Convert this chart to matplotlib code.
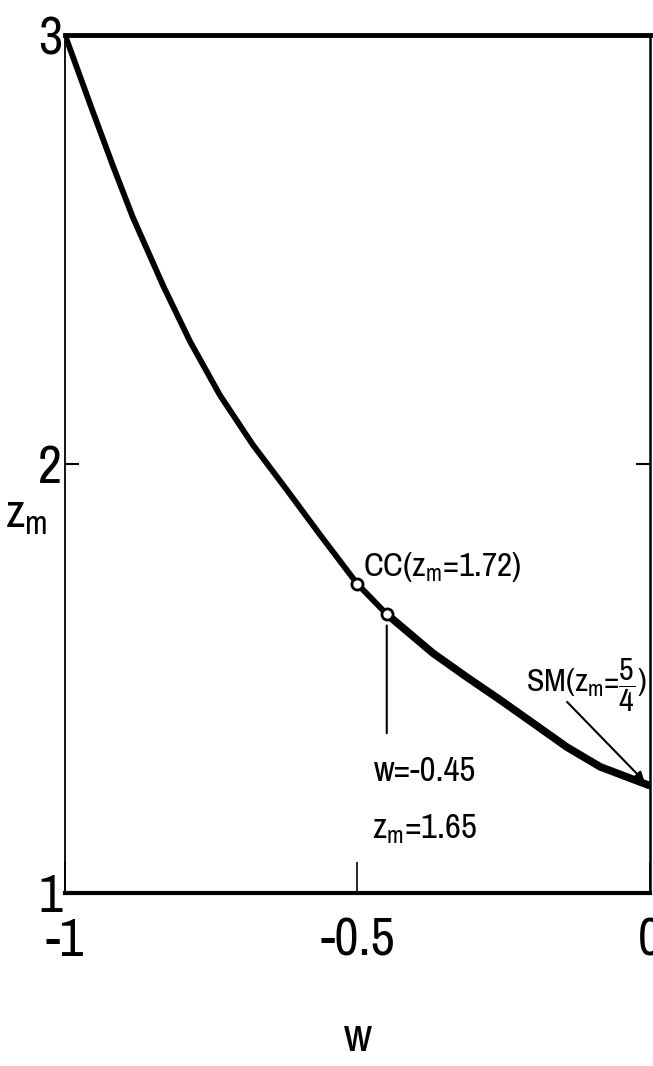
import matplotlib
matplotlib.use("Agg")
import matplotlib.pyplot as plt
from matplotlib import font_manager

# pick a narrow face if one is installed, the scan uses a very condensed lettering
narrow = None
for f in font_manager.fontManager.ttflist:
    if 'Narrow' in f.name or 'Condensed' in f.name:
        narrow = (f.name, 'normal')
        break
if narrow is None:
    for f in font_manager.fontManager.ttflist:
        if f.stretch in ('condensed', 'semi-condensed', 'extra-condensed', 'ultra-condensed'):
            narrow = (f.name, f.stretch)
            break
if narrow is None:
    narrow = ('DejaVu Sans', 'normal')

plt.rcParams['font.family'] = [narrow[0], 'DejaVu Sans']
plt.rcParams['font.stretch'] = narrow[1]
plt.rcParams['mathtext.fontset'] = 'custom'
plt.rcParams['mathtext.rm'] = narrow[0]
plt.rcParams['mathtext.it'] = narrow[0]

# curve z_m(w)
w_curve = [-1.0, -0.952, -0.918, -0.884, -0.832, -0.786, -0.735, -0.679, -0.621,
           -0.564, -0.5, -0.45, -0.371, -0.313, -0.256, -0.200, -0.142, -0.085, 0.0]
z_curve = [3.0, 2.82, 2.695, 2.575, 2.415, 2.285, 2.16, 2.045, 1.94,
           1.835, 1.72, 1.65, 1.559, 1.503, 1.450, 1.396, 1.340, 1.294, 1.25]

# marked points
cc_w, cc_z = -0.5, 1.72
pt_w, pt_z = -0.45, 1.65
sm_w, sm_z = 0.0, 1.25

x_ticks = [-1, -0.5, 0]
x_tick_labels = ['-1', '-0.5', '0']
y_ticks = [1, 2, 3]

fig = plt.figure(figsize=(6.53, 10.66), dpi=100)
ax = fig.add_axes([0.0995, 0.1623, 0.8959, 0.8049])

ax.plot(w_curve, z_curve, color='black', lw=4.2, solid_capstyle='round',
        solid_joinstyle='round', zorder=3)
# the lower branch is inked heavier in the original
ax.plot(w_curve[11:], z_curve[11:], color='black', lw=5.5, solid_capstyle='butt',
        solid_joinstyle='round', zorder=3)
ax.plot([cc_w, pt_w], [cc_z, pt_z], 'o', ms=8, mfc='white', mec='black', mew=2, zorder=4)

ax.set_xlim(-1, 0)
ax.set_ylim(1, 3)
ax.set_xticks(x_ticks)
ax.set_xticklabels(x_tick_labels)
ax.set_yticks(y_ticks)
ax.tick_params(axis='x', direction='in', length=22, width=1.2, labelsize=38, pad=17)
ax.tick_params(axis='y', direction='in', length=10, width=1.5, labelsize=38, pad=2,
               right=True)

for side, lw in [('top', 3.5), ('bottom', 3), ('left', 1.3), ('right', 1.8)]:
    ax.spines[side].set_linewidth(lw)

ax.set_xlabel('w', fontsize=34, va='center')
ax.xaxis.set_label_coords(0.5, -0.169)
ax.set_ylabel(r'z$_\mathrm{m}$', fontsize=34, rotation=0, ha='center', va='center')
ax.yaxis.set_label_coords(-0.066, 0.44)

# annotations
ax.text(-0.49, 1.74, r'CC(z$_\mathrm{m}$=1.72)', fontsize=24, ha='left', va='baseline')
ax.annotate('', xy=(pt_w, pt_z - 0.02), xytext=(pt_w, 1.366),
            arrowprops=dict(arrowstyle='-', color='black', lw=1.5))
ax.text(-0.385, 1.26, 'w=-0.45', fontsize=25, ha='center', va='baseline')
ax.text(-0.385, 1.128, r'z$_\mathrm{m}$=1.65', fontsize=25, ha='center', va='baseline')
ax.text(-0.108, 1.47, r'SM(z$_\mathrm{m}$=$\dfrac{5}{4}$)', fontsize=23, ha='center', va='baseline')
ax.annotate('', xy=(sm_w - 0.006, sm_z + 0.005), xytext=(-0.145, 1.45),
            arrowprops=dict(arrowstyle='-|>', color='black', lw=1.5, mutation_scale=14))

fig.savefig('out.png', dpi=100)
